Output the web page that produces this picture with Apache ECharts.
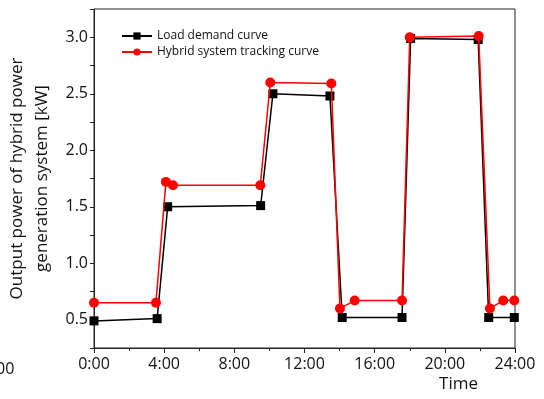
<!DOCTYPE html>
<html>
<head>
<meta charset="utf-8">
<script src="https://cdn.jsdelivr.net/npm/echarts@6/dist/echarts.min.js"></script>
<style>
  html, body { margin: 0; padding: 0; background: #fff; }
  #main { width: 544px; height: 399px; }
</style>
</head>
<body>
<div id="main"></div>
<script>
  // hours of day and power [kW]
  var loadHours = [0, 3.6, 4.2, 9.5, 10.2, 13.45, 14.15, 17.56, 18.05, 21.9, 22.5, 23.96];
  var loadValues = [0.49, 0.51, 1.50, 1.51, 2.50, 2.48, 0.52, 0.52, 2.99, 2.98, 0.52, 0.52];

  var trackHours = [0, 3.53, 4.1, 4.5, 9.48, 10.05, 13.53, 14.02, 14.86, 17.56, 18.0, 21.93, 22.57, 23.33, 23.96];
  var trackValues = [0.65, 0.65, 1.72, 1.69, 1.69, 2.60, 2.59, 0.60, 0.67, 0.67, 3.00, 3.01, 0.60, 0.67, 0.67];

  var seriesNames = ['Load demand curve', 'Hybrid system tracking curve'];

  function pairs (xs, ys) {
    var out = []
    for (var i = 0; i < xs.length; i++) out.push([xs[i], ys[i]])
    return out
  }

  var font = 'Open Sans'
  var chart = echarts.init(document.getElementById('main'))

  chart.setOption({
    animation: false,
    textStyle: {fontFamily: font},
    grid: {
      left: 94,
      right: 29,
      top: 9,
      bottom: 51,
      containLabel: false,
      outerBoundsMode: 'none',
      show: true,
      borderColor: '#222',
      borderWidth: 1
    },
    legend: {
      orient: 'vertical',
      left: 116,
      top: 25,
      itemWidth: 30,
      itemHeight: 9,
      itemGap: 4,
      textStyle: {fontFamily: font, fontSize: 12, color: '#111'},
      data: seriesNames
    },
    graphic: [
      // clipped label at the left edge of the picture
      {type: 'text', x: -4, y: 361, style: {text: '00', font: '16px "Open Sans"', fill: '#111'}}
    ],
    xAxis: {
      type: 'value',
      min: 0,
      max: 24,
      interval: 4,
      name: 'Time',
      nameLocation: 'end',
      nameGap: 0,
      nameTextStyle: {fontFamily: font, fontSize: 17, color: '#111', align: 'right', verticalAlign: 'top', padding: [28, 37, 0, 0]},
      axisLine: {onZero: false, lineStyle: {color: '#222', width: 1}},
      axisTick: {inside: false, length: 5, lineStyle: {color: '#222'}},
      minorTick: {show: true, splitNumber: 2, length: 3, lineStyle: {color: '#222'}},
      splitLine: {show: false},
      axisLabel: {
        fontFamily: font,
        fontSize: 16,
        color: '#111',
        margin: 8,
        formatter: function (v) { return v + ':00' }
      }
    },
    yAxis: {
      type: 'value',
      min: 0.25,
      max: 3.25,
      interval: 0.25,
      name: 'Output power of hybrid power\ngeneration system [kW]',
      nameLocation: 'middle',
      nameRotate: 90,
      nameGap: 38,
      nameTextStyle: {fontFamily: font, fontSize: 17, color: '#111', lineHeight: 25},
      axisLine: {lineStyle: {color: '#222', width: 1}},
      axisTick: {inside: false, length: 4, lineStyle: {color: '#222'}},
      splitLine: {show: false},
      axisLabel: {
        fontFamily: font,
        fontSize: 16,
        color: '#111',
        margin: 6,
        formatter: function (v) {
          var r = Math.round(v * 100)
          return r % 50 === 0 ? (v).toFixed(1) : ''
        }
      }
    },
    series: [
      {
        name: seriesNames[0],
        type: 'line',
        data: pairs(loadHours, loadValues),
        symbol: 'rect',
        symbolSize: 9,
        clip: true,
        itemStyle: {color: '#000'},
        lineStyle: {color: '#000', width: 1.5},
        z: 2
      },
      {
        name: seriesNames[1],
        type: 'line',
        data: pairs(trackHours, trackValues),
        symbol: 'circle',
        symbolSize: 10,
        clip: true,
        itemStyle: {color: '#ff0000'},
        lineStyle: {color: '#ff0000', width: 1.5},
        z: 3
      }
    ]
  })
</script>
</body>
</html>
